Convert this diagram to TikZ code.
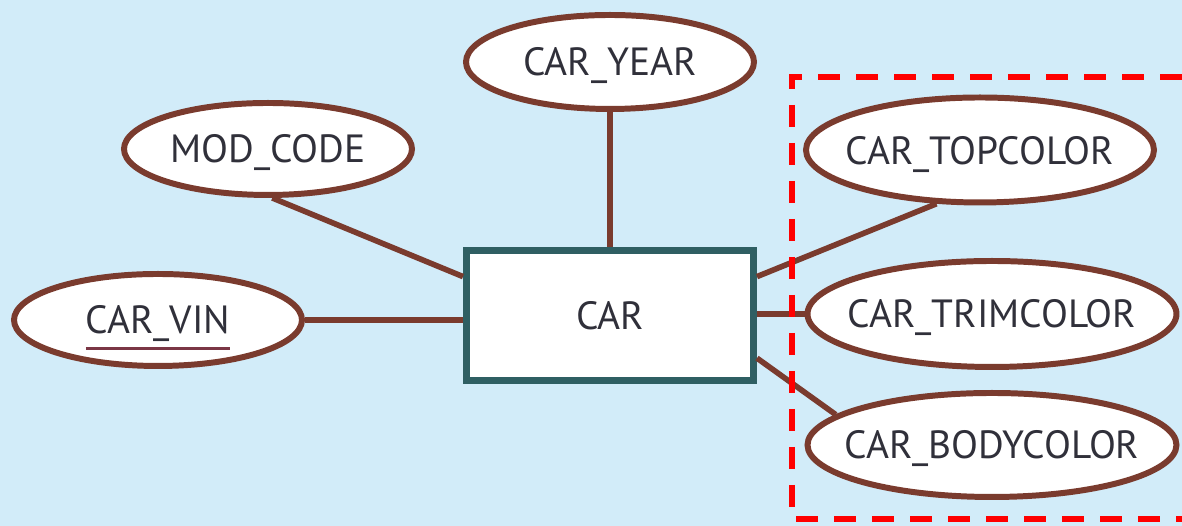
\documentclass[tikz,border=0pt]{standalone}
\usepackage{fontspec}
\setmainfont{PT Sans}
\usepackage{xcolor}
\usepackage{tikz}
\usetikzlibrary{arrows.meta,shapes,positioning,calc}

\definecolor{bgblue}{HTML}{D2ECF9}
\definecolor{linkbrown}{HTML}{7A3B2E}
\definecolor{boxteal}{HTML}{2F5F63}
\definecolor{txtdark}{HTML}{30303A}
\definecolor{keyline}{HTML}{7A3645}

\newcommand{\keyattr}[1]{\setbox0\hbox{#1}\rlap{\color{keyline}\rule[-4.5pt]{\wd0}{0.9pt}}\box0}

\tikzset{
attr/.style={ellipse,draw=linkbrown,line width=1.7pt,fill=white,inner xsep=-0.3cm,inner ysep=0pt,text depth=0pt,text=txtdark,font=\fontsize{11.2}{14}\selectfont},
entity/.style={rectangle,draw=boxteal,line width=2pt,fill=white,minimum width=2.87cm,minimum height=1.30cm,text depth=0pt,text=txtdark,font=\fontsize{11.2}{14}\selectfont},
link/.style={draw=linkbrown,line width=1.6pt}
}

\begin{document}
\begin{tikzpicture}
\useasboundingbox (0,0) rectangle (11.82,5.26);
\fill[bgblue] (0,0) rectangle (11.82,5.26);
\node[entity] (car) at (6.10,2.10) {CAR};
\node[attr,minimum width=2.88cm,minimum height=0.94cm] (year) at (6.10,4.64) {CAR\_YEAR};
\node[attr,minimum width=2.88cm,minimum height=0.92cm] (mod) at (2.68,3.77) {MOD\_CODE};
\node[attr,minimum width=2.88cm,minimum height=0.92cm] (vin) at (1.58,2.06) {\keyattr{CAR\_VIN}};
\node[attr,minimum width=3.48cm,minimum height=1.05cm] (topc) at (9.80,3.76) {CAR\_TOPCOLOR};
\node[attr,minimum width=3.69cm,minimum height=1.06cm] (trim) at (9.92,2.12) {CAR\_TRIMCOLOR};
\node[attr,minimum width=3.69cm,minimum height=1.04cm] (body) at (9.92,0.81) {CAR\_BODYCOLOR};
\draw[link] (year.south) -- (car.north);
\draw[link] (mod.275) -- (car.165);
\draw[link] (vin.east) -- (car.west |- vin.east);
\draw[link] (car.15) -- (topc.231);
\draw[link] (car.east |- trim.west) -- (trim.west);
\draw[link] (car.-16) -- (body.169);
\draw[red,line width=1.5pt,dash pattern=on 0.22cm off 0.16cm] (12.2,4.49) -- (7.92,4.49) -- (7.92,0.07) -- (12.2,0.07);
\end{tikzpicture}
\end{document}
